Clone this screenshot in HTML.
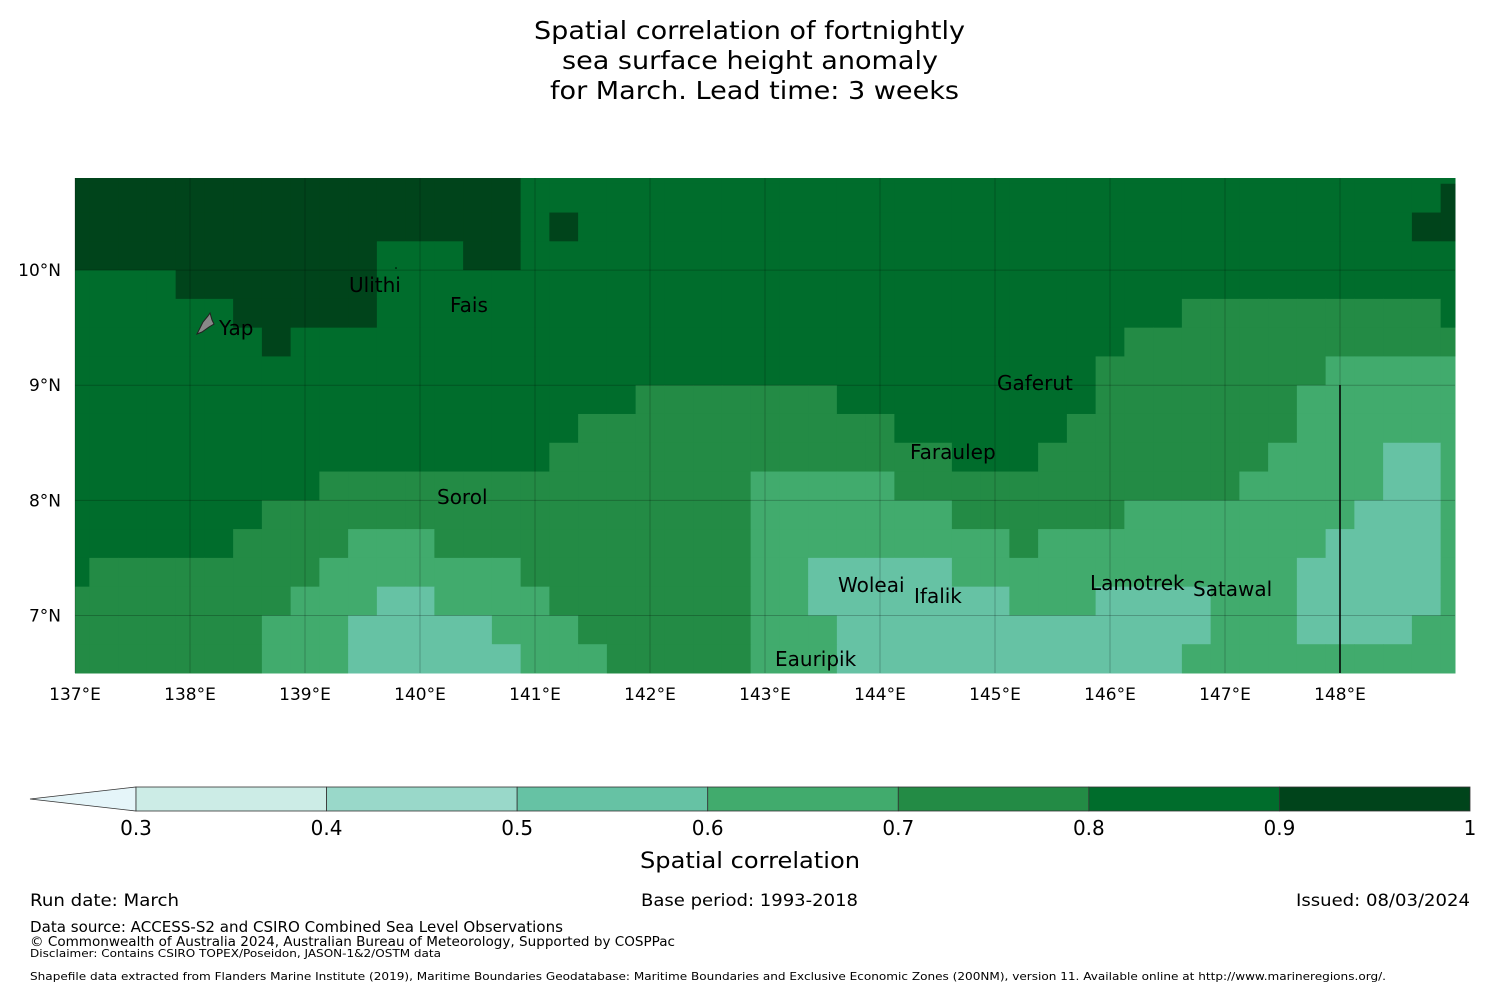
<!DOCTYPE html>
<html><head><meta charset="utf-8">
<style>
html,body{margin:0;padding:0;background:#fff;}
svg{display:block;font-family:"DejaVu Sans","Liberation Sans",sans-serif;}
</style></head>
<body>
<svg id="chart" width="1500" height="990" viewBox="0 0 1500 990" xmlns="http://www.w3.org/2000/svg">
<g font-size="25" fill="#000">
<text x="534" y="39" textLength="431" lengthAdjust="spacingAndGlyphs">Spatial correlation of fortnightly</text>
<text x="562" y="69" textLength="376" lengthAdjust="spacingAndGlyphs">sea surface height anomaly</text>
<text x="550" y="99" textLength="409" lengthAdjust="spacingAndGlyphs">for March. Lead time: 3 weeks</text>
</g>
<g id="cells"></g>
<g id="grid"></g>
<g id="axes" font-size="17"></g>
<line x1="1340" y1="385" x2="1340" y2="673" stroke="#000" stroke-width="1.5"/>
<g font-size="20" fill="#000">
<path d="M197,334 L203,322 L208,316 L210,313 L212,320 L214,324 L209,327 L202,332 Z" fill="#888" stroke="#222" stroke-width="1"/>
<text x="219" y="335">Yap</text>
<text x="349" y="292">Ulithi</text><circle cx="396" cy="268" r="0.8" fill="#000"/>
<text x="450" y="312">Fais</text>
<text x="997" y="390">Gaferut</text>
<text x="910" y="459">Faraulep</text>
<text x="437" y="504">Sorol</text>
<text x="838" y="592">Woleai</text>
<text x="914" y="603">Ifalik</text>
<text x="1090" y="590">Lamotrek</text>
<text x="1193" y="596">Satawal</text>
<text x="775" y="666">Eauripik</text>
</g>
<g id="cbar"></g>
<text x="640" y="868" font-size="22" textLength="220" lengthAdjust="spacingAndGlyphs">Spatial correlation</text>
<g fill="#000">
<text x="30" y="906" font-size="17" textLength="149" lengthAdjust="spacingAndGlyphs">Run date: March</text>
<text x="641" y="906" font-size="17" textLength="217" lengthAdjust="spacingAndGlyphs">Base period: 1993-2018</text>
<text x="1296" y="906" font-size="17" textLength="174" lengthAdjust="spacingAndGlyphs">Issued: 08/03/2024</text>
<text x="30" y="932" font-size="15" textLength="533" lengthAdjust="spacingAndGlyphs">Data source: ACCESS-S2 and CSIRO Combined Sea Level Observations</text>
<text x="30" y="946" font-size="13" textLength="645" lengthAdjust="spacingAndGlyphs">© Commonwealth of Australia 2024, Australian Bureau of Meteorology, Supported by COSPPac</text>
<text x="30" y="957" font-size="11" textLength="411" lengthAdjust="spacingAndGlyphs">Disclaimer: Contains CSIRO TOPEX/Poseidon, JASON-1&amp;2/OSTM data</text>
<text x="30" y="980" font-size="11" textLength="1356" lengthAdjust="spacingAndGlyphs">Shapefile data extracted from Flanders Marine Institute (2019), Maritime Boundaries Geodatabase: Maritime Boundaries and Exclusive Economic Zones (200NM), version 11. Available online at http://www.marineregions.org/.</text>
</g>
</svg>
<script>
// Grid rows (north to south), run-length encoded: "class x count"; class d => correlation bin d/10..d/10+0.1
const rowRuns = [
"9x16 8x33",
"9x16 8x32 9x1",
"9x16 8x1 9x1 8x29 9x2",
"9x11 8x3 9x2 8x33",
"8x4 9x7 8x38",
"8x6 9x5 8x28 7x9 8x1",
"8x7 9x1 8x29 7x12",
"8x36 7x8 6x5",
"8x20 7x7 8x9 7x7 6x6",
"8x18 7x11 8x6 7x8 6x6",
"8x17 7x14 8x3 7x8 6x4 5x2 6x1",
"8x9 7x15 6x5 7x12 6x5 5x2 6x1",
"8x7 7x17 6x7 7x6 6x8 5x3 6x1",
"8x6 7x4 6x3 7x11 6x9 7x1 6x10 5x4 6x1",
"8x1 7x8 6x7 7x8 6x2 5x5 6x12 5x5 6x1",
"7x8 6x3 5x2 6x4 7x7 6x2 5x7 6x3 5x4 6x3 5x5 6x1",
"7x7 6x3 5x5 6x3 7x6 6x3 5x13 6x3 5x4 6x2",
"7x7 6x3 5x6 6x3 7x5 6x3 5x12 6x10"
];
const lonTicks = [137,138,139,140,141,142,143,144,145,146,147,148];
const latTicks = [10,9,8,7];
const cbarBounds = [0.3,0.4,0.5,0.6,0.7,0.8,0.9,1.0];
const cbarLabels = ["0.3","0.4","0.5","0.6","0.7","0.8","0.9","1"];
const palette = {3:"#ccece6",4:"#99d8c9",5:"#66c2a4",6:"#41ab6d",7:"#238b45",8:"#006d2c",9:"#00441b"};

const NS="http://www.w3.org/2000/svg";
const X0=75,X1=1455,Y0=178,Y1=673;
const lonMin=137,lonMax=149,latMax=10.8,latMin=6.5;
const xs=lon=>X0+(lon-lonMin)/(lonMax-lonMin)*(X1-X0);
const ys=lat=>Y0+(latMax-lat)/(latMax-latMin)*(Y1-Y0);
function mk(tag,attrs,parent){const e=document.createElementNS(NS,tag);for(const k in attrs)e.setAttribute(k,attrs[k]);parent.appendChild(e);return e;}

const cells=document.getElementById('cells');
rowRuns.forEach((row,r)=>{
  const top = r===0?10.8:10.75-(r-1)*0.25;
  const bot = r===0?10.75:top-0.25;
  let c=0;
  row.split(' ').forEach(tok=>{
    const [v,n]=tok.split('x').map(Number);
    for(let i=0;i<n;i++,c++){
      let l = c===0?137:137.125+(c-1)*0.25;
      let rr = c===48?149:137.125+c*0.25;
      const rect=mk('rect',{x:xs(l),y:ys(top),width:xs(rr)-xs(l)+0.5,height:ys(bot)-ys(top)+0.5,fill:palette[v]},cells);
      
      
    }
  });
});

const grid=document.getElementById('grid');
const axes=document.getElementById('axes');
lonTicks.forEach(t=>{
  const x=xs(t);
  const ln=mk('line',{x1:x,y1:Y0,x2:x,y2:Y1,stroke:"rgba(0,0,0,0.22)","stroke-width":1},grid);
  
  
  const tx=mk('text',{x:x,y:700,"text-anchor":"middle"},axes);
  tx.textContent=t+"°E";
  
  
});
latTicks.forEach(t=>{
  const y=ys(t);
  const ln=mk('line',{x1:X0,y1:y,x2:X1,y2:y,stroke:"rgba(0,0,0,0.22)","stroke-width":1},grid);
  
  
  const tx=mk('text',{x:61,y:y+6,"text-anchor":"end"},axes);
  tx.textContent=t+"°N";
  
  
});

const cb=document.getElementById('cbar');
const CX0=136,CX1=1470,CY0=787,CY1=811;
const cx=v=>CX0+(v-0.3)/(1.0-0.3)*(CX1-CX0);
const tri=mk('polygon',{points:`${CX0},${CY0} ${CX0},${CY1} 30,${(CY0+CY1)/2}`,fill:"#e5f5f9",stroke:"#333","stroke-width":0.8},cb);


for(let i=0;i<cbarBounds.length-1;i++){
  const key=Math.round(cbarBounds[i]*10);
  const seg=mk('rect',{x:cx(cbarBounds[i]),y:CY0,width:cx(cbarBounds[i+1])-cx(cbarBounds[i]),height:CY1-CY0,fill:palette[key],stroke:"#333","stroke-width":0.8},cb);
  
  
}
cbarBounds.forEach((b,i)=>{
  const tx=mk('text',{x:cx(b),y:835,"text-anchor":"middle","font-size":20},cb);
  tx.textContent=cbarLabels[i];
  
  
});
</script>
</body></html>
